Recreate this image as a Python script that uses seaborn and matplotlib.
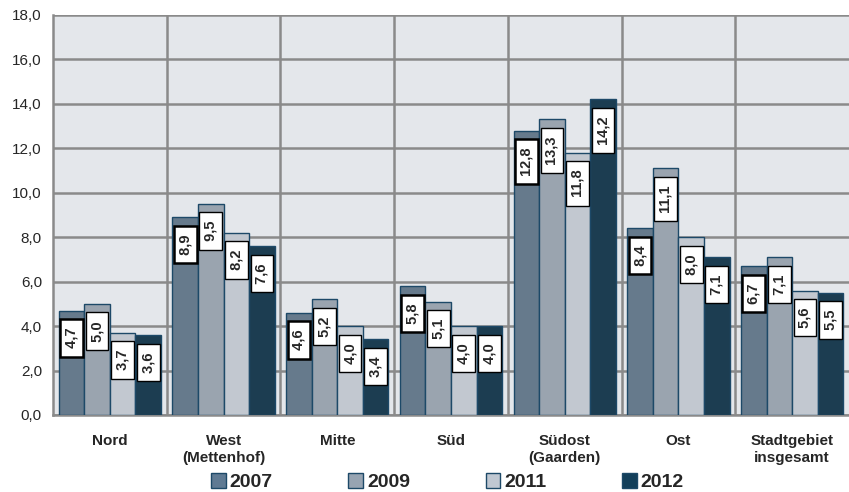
import matplotlib
matplotlib.use("Agg")
import matplotlib.pyplot as plt
from matplotlib.ticker import FuncFormatter, MultipleLocator, FixedLocator
from matplotlib.patches import Patch
import seaborn as sns
import pandas as pd

# === Data ===
categories = ["Nord", "West\n(Mettenhof)", "Mitte", "Süd", "Südost\n(Gaarden)",
              "Ost", "Stadtgebiet\ninsgesamt"]
years = ["2007", "2009", "2011", "2012"]
v2007 = [4.7, 8.9, 4.6, 5.8, 12.8, 8.4, 6.7]
v2009 = [5.0, 9.5, 5.2, 5.1, 13.3, 11.1, 7.1]
v2011 = [3.7, 8.2, 4.0, 4.0, 11.8, 8.0, 5.6]
v2012 = [3.6, 7.6, 3.4, 4.0, 14.2, 7.1, 5.5]
colors = ["#5f7a93", "#97a4b2", "#c0c8d2", "#133f5a"]

series = {"2007": v2007, "2009": v2009, "2011": v2011, "2012": v2012}
df = pd.DataFrame([
    {"Gebiet": c, "Jahr": y, "Wert": series[y][i]}
    for y in years for i, c in enumerate(categories)
])

sns.set_style("white")
plt.rcParams["font.family"] = ["Liberation Sans", "DejaVu Sans"]

fig = plt.figure(figsize=(8.49, 4.92), dpi=100)
ax = fig.add_axes([53 / 849, 1 - 415 / 492, 796 / 849, 400 / 492])
ax.set_facecolor("#e4e7eb")

sns.barplot(data=df, x="Gebiet", y="Wert", hue="Jahr", palette=colors,
            width=0.9, edgecolor="#1d4968", linewidth=1.0, legend=False,
            ax=ax, zorder=3)

grid_col = "#8a8a8a"
ax.set_ylim(0, 18)
ax.set_xlim(-0.5, len(categories) - 0.5)
ax.yaxis.set_major_locator(MultipleLocator(2))
ax.yaxis.set_major_formatter(FuncFormatter(lambda v, p: f"{v:.1f}".replace(".", ",")))
ax.grid(axis="y", color=grid_col, linewidth=1.8, zorder=1)
for i in range(len(categories) - 1):
    ax.axvline(i + 0.5, color=grid_col, linewidth=1.8, zorder=1)

ax.xaxis.set_minor_locator(FixedLocator([i - 0.5 for i in range(len(categories) + 1)]))
ax.tick_params(axis="x", which="major", length=0, pad=14)
ax.tick_params(axis="x", which="minor", length=5, color=grid_col, width=1.5)
ax.tick_params(axis="y", length=5, color=grid_col, width=1.5, labelsize=11, pad=3)
for lab in ax.get_xticklabels():
    lab.set_fontweight("bold")
    lab.set_fontsize(11)
    lab.set_linespacing(1.2)
ax.set_xlabel("")
ax.set_ylabel("")

for side in ["top", "right"]:
    ax.spines[side].set_visible(False)
for side in ["left", "bottom"]:
    ax.spines[side].set_color(grid_col)
    ax.spines[side].set_linewidth(1.8)

# === value labels in boxes ===
for k, cont in enumerate(ax.containers):
    vals = series[years[k]]
    for bar, v in zip(cont, vals):
        xc = bar.get_x() + bar.get_width() / 2
        ax.text(xc, v - 0.58, " " + f"{v:.1f}".replace(".", ",") + " ", rotation=90,
                ha="center", va="top", fontsize=10.5, fontweight="bold", zorder=5,
                bbox=dict(boxstyle="square,pad=0.3", facecolor="white",
                          edgecolor="black", linewidth=1.8 if k == 0 else 1.0))

# === legend ===
handles = [Patch(facecolor=c, edgecolor="#1d4968", linewidth=1.0) for c in colors]
fig.legend(handles, years, loc="lower center", bbox_to_anchor=(0.527, -0.034),
           ncol=4, frameon=False, prop={"weight": "bold", "size": 14},
           handlelength=0.75, handleheight=0.75, handletextpad=0.2, columnspacing=3.9)

fig.savefig("out.png", dpi=100)
